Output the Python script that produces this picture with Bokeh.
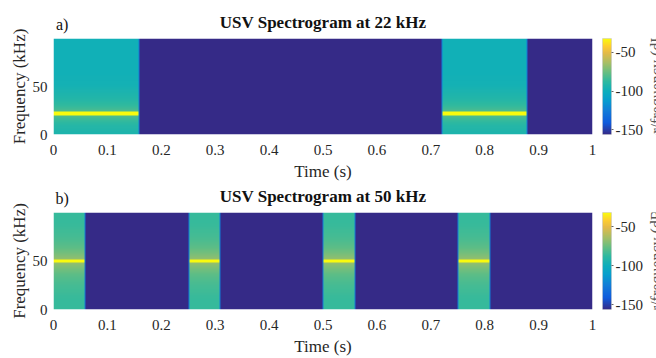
import numpy as np
from bokeh.plotting import figure
from bokeh.models import LinearColorMapper, FixedTicker, LinearAxis
from bokeh.layouts import column, row
from bokeh.embed import file_html
from bokeh.resources import INLINE

# ---------------- data ----------------
t_max = 1.0          # s
f_max = 100.0        # kHz
n_time = 539
n_freq = 100

seg_start_a = [0.0, 0.72]
seg_end_a = [0.16, 0.88]
tone_khz_a = 22
noise_db_a = -98

seg_start_b = [0.0, 0.25, 0.50, 0.75]
seg_end_b = [0.06, 0.31, 0.56, 0.81]
tone_khz_b = 50
noise_db_b = -86

silence_db = -160
tone_db = -32
edge_db = -125
tone_halfwidth_khz = 1.5

# spectral leakage around the tone (distance from tone in kHz -> dB added)
leak_offset_khz = [0, 4, 8, 14, 22, 30, 40, 100]
leak_boost_a = [20, 15, 11, 7, 4, 1, 0, 0]
leak_boost_b = [22, 17, 13, 8, 4, 2, 0, 0]

x_ticks = [0, 0.1, 0.2, 0.3, 0.4, 0.5, 0.6, 0.7, 0.8, 0.9, 1]
x_tick_labels = ["0", "0.1", "0.2", "0.3", "0.4", "0.5", "0.6", "0.7", "0.8", "0.9", "1"]
y_ticks = [0, 50]
y_tick_labels = ["0", "50"]
cbar_ticks = [-50, -100, -150]
cbar_tick_labels = ["-50", "-100", "-150"]
cbar_low = -156
cbar_high = -32
cbar_title = "Power/frequency (dB/Hz)"

# old-style parula anchor colours
parula_anchor_pos = [0.0, 0.12, 0.25, 0.35, 0.45, 0.55, 0.65, 0.75, 0.85, 0.92, 1.0]
parula_anchor_rgb = [(53, 42, 135), (15, 92, 221), (18, 125, 216), (7, 156, 207),
                     (12, 174, 188), (45, 185, 160), (105, 190, 128), (170, 190, 100),
                     (228, 186, 72), (254, 205, 48), (249, 251, 14)]

# ---------------- build palette ----------------
pos = np.linspace(0, 1, 256)
arr = np.array(parula_anchor_rgb, dtype=float)
palette = []
for v in pos:
    r = np.interp(v, parula_anchor_pos, arr[:, 0])
    g = np.interp(v, parula_anchor_pos, arr[:, 1])
    b = np.interp(v, parula_anchor_pos, arr[:, 2])
    palette.append("#%02x%02x%02x" % (int(round(r)), int(round(g)), int(round(b))))


def build_image(starts, ends, tone, noise_db, boost):
    f = (np.arange(n_freq) + 0.5) * f_max / n_freq
    t = (np.arange(n_time) + 0.5) * t_max / n_time
    img = np.full((n_freq, n_time), float(silence_db))
    prof = noise_db + np.interp(np.abs(f - tone), leak_offset_khz, boost)
    prof[np.abs(f - tone) <= tone_halfwidth_khz] = tone_db
    for s, e in zip(starts, ends):
        idx = np.where((t >= s) & (t < e))[0]
        img[:, idx] = prof[:, None]
        if s > 0:
            img[:, idx[0]] = edge_db
        img[:, idx[-1]] = edge_db
    return img


SERIF = "Liberation Serif"
TXT = "#262626"


def style_axis(ax):
    ax.axis_line_color = None
    ax.major_tick_line_color = None
    ax.minor_tick_line_color = None
    ax.major_tick_out = 0
    ax.major_tick_in = 0
    ax.minor_tick_out = 0
    ax.minor_tick_in = 0
    ax.major_label_text_font = SERIF
    ax.major_label_text_font_size = "15px"
    ax.major_label_text_color = TXT
    ax.axis_label_text_font = SERIF
    ax.axis_label_text_font_size = "17px"
    ax.axis_label_text_font_style = "normal"
    ax.axis_label_text_color = TXT


def make_panel(tag, title, img, height, top_b, bottom_b, label_frac):
    mapper = LinearColorMapper(palette=palette, low=cbar_low, high=cbar_high)
    p = figure(width=602, height=height, x_range=(0, t_max), y_range=(0, f_max),
               min_border_left=53, min_border_right=10, min_border_top=top_b,
               min_border_bottom=bottom_b, output_backend="svg", toolbar_location=None,
               tools="")
    p.image(image=[img], x=0, y=0, dw=t_max, dh=f_max, color_mapper=mapper)
    p.grid.visible = False
    p.outline_line_color = None
    p.background_fill_color = "white"
    p.border_fill_color = "white"

    xa = p.below[0]
    ya = p.left[0]
    style_axis(xa)
    style_axis(ya)
    xa.ticker = FixedTicker(ticks=x_ticks)
    xa.major_label_overrides = dict(zip(x_ticks, x_tick_labels))
    ya.ticker = FixedTicker(ticks=y_ticks)
    ya.major_label_overrides = dict(zip(y_ticks, y_tick_labels))
    xa.axis_label = "Time (s)"
    ya.axis_label = "Frequency (kHz)"
    xa.major_label_standoff = 10
    xa.axis_label_standoff = 4
    ya.major_label_standoff = 6
    ya.axis_label_standoff = 1

    # panel tag and title on an axis above the frame
    tag_x = 0.016
    top = LinearAxis(ticker=FixedTicker(ticks=[tag_x]),
                     major_label_overrides={tag_x: tag}, axis_label=title)
    style_axis(top)
    top.major_label_text_font_size = "16px"
    top.major_label_text_color = "#111111"
    top.major_label_standoff = 6
    top.axis_label_text_font_style = "bold"
    top.axis_label_text_color = "#111111"
    top.axis_label_standoff = -19
    p.add_layout(top, "above")

    # colour bar as its own narrow figure
    cb = figure(width=43, height=height, x_range=(0, 1), y_range=(cbar_low, cbar_high),
                min_border_left=0, min_border_right=32, min_border_top=top_b,
                min_border_bottom=bottom_b, output_backend="svg", toolbar_location=None,
                tools="", y_axis_location="right")
    grad = np.linspace(cbar_low, cbar_high, 256)[:, None]
    cb.image(image=[grad], x=0, y=cbar_low, dw=1, dh=cbar_high - cbar_low,
             color_mapper=mapper)
    cb.grid.visible = False
    cb.xaxis.visible = False
    cb.outline_line_color = "#d8d8d8"
    cb.border_fill_color = "white"
    style_axis(cb.yaxis[0])
    cb.yaxis.ticker = FixedTicker(ticks=cbar_ticks)
    cb.yaxis.major_label_overrides = dict(zip(cbar_ticks, cbar_tick_labels))
    cb.yaxis.major_tick_out = 2
    cb.yaxis.major_tick_line_color = "#666666"
    cb.yaxis.major_label_standoff = 2

    # colour-bar title (cut by the right edge of the page, as in the reference)
    lab = figure(width=11, height=height, x_range=(0, 1), y_range=(0, 1),
                 min_border=0, output_backend="svg", toolbar_location=None, tools="",
                 x_axis_location=None, y_axis_location=None)
    lab.grid.visible = False
    lab.outline_line_color = None
    lab.border_fill_color = "white"
    lab.text(x=[0.27], y=[label_frac], text=[cbar_title], angle=np.pi / 2,
             text_font=value(SERIF), text_font_size="16px", text_color="#555555",
             text_align="center", text_baseline="top")
    return row(p, cb, lab, spacing=0)


from bokeh.core.properties import value

img_a = build_image(seg_start_a, seg_end_a, tone_khz_a, noise_db_a, leak_boost_a)
img_b = build_image(seg_start_b, seg_end_b, tone_khz_b, noise_db_b, leak_boost_b)

r1 = make_panel("a)", "USV Spectrogram at 22 kHz", img_a, 183, 38, 47, 0.50)
r2 = make_panel("b)", "USV Spectrogram at 50 kHz", img_b, 175, 27, 49, 0.47)

layout = column(r1, r2, spacing=0)
open("out.html", "w").write(file_html(layout, INLINE))
